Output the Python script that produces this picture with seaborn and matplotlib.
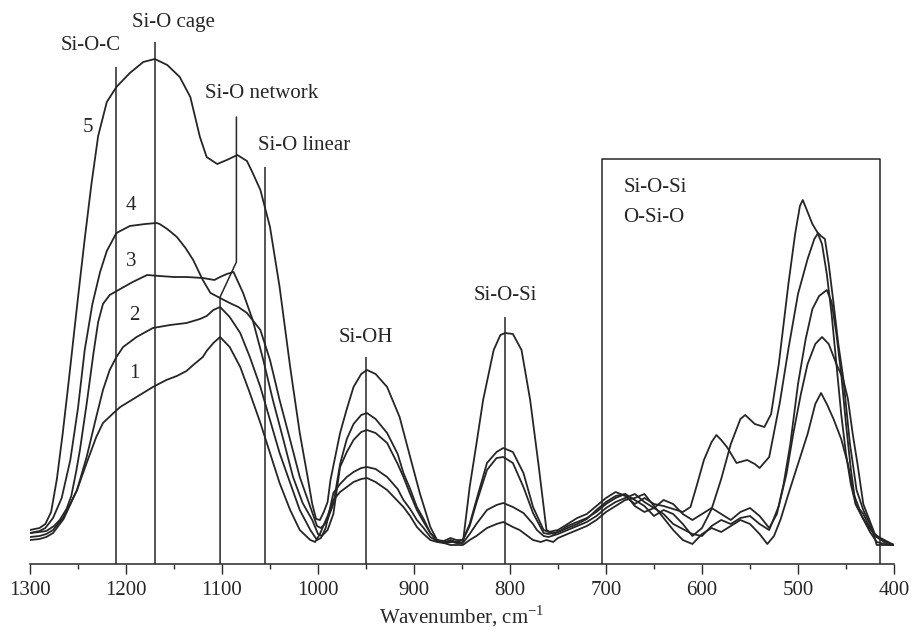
import pandas as pd
import matplotlib
matplotlib.use("Agg")
import matplotlib.pyplot as plt
import seaborn as sns
from matplotlib.ticker import MultipleLocator

# ==============================
# DATA  (wavenumber cm-1, absorbance in arbitrary units)
# ==============================
curve_1 = [(1300, 24), (1290, 25), (1283, 27), (1276, 31), (1265, 45), (1251, 74), (1241, 101),
           (1231, 127), (1224, 141), (1213, 151), (1206, 157), (1189, 167), (1172, 177), (1158, 184),
           (1147, 188), (1137, 193), (1130, 199), (1120, 207), (1116, 213), (1109, 221), (1102, 227),
           (1092, 217), (1081, 197), (1071, 171), (1060, 141), (1050, 111), (1040, 81), (1029, 54),
           (1019, 34), (1008, 24), (1003, 22), (998, 30), (990, 48), (984, 64), (977, 72), (970, 77),
           (963, 82), (955, 85), (949, 86), (940, 82), (928, 74), (917, 63), (911, 57), (904, 48),
           (897, 37), (890, 30), (883, 24), (876, 22), (869, 21), (862, 19), (856, 19), (849, 19),
           (842, 24), (835, 28), (824, 36), (814, 40), (807, 42), (797, 37), (790, 34), (776, 24),
           (768, 22), (762, 24), (755, 22), (750, 26), (740, 30), (730, 34), (720, 38), (710, 44),
           (700, 52), (690, 58), (680, 64), (670, 66), (660, 70), (650, 58), (640, 46), (630, 34),
           (620, 24), (610, 20), (600, 30), (590, 36), (580, 32), (570, 38), (560, 44), (550, 40),
           (540, 30), (532, 20), (525, 28), (518, 45), (510, 70), (500, 100), (490, 130), (482, 160),
           (476, 171), (470, 160), (463, 145), (455, 125), (448, 100), (442, 70), (436, 55), (432, 50),
           (427, 40), (420, 28), (410, 22), (400, 19)]

curve_2 = [(1300, 27), (1290, 28), (1283, 30), (1276, 34), (1265, 47), (1251, 74), (1241, 107),
           (1231, 147), (1224, 174), (1217, 194), (1210, 207), (1203, 217), (1189, 227), (1172, 236),
           (1154, 239), (1137, 241), (1123, 245), (1116, 248), (1109, 254), (1102, 257), (1092, 247),
           (1081, 231), (1071, 207), (1060, 177), (1050, 144), (1040, 111), (1029, 81), (1019, 54),
           (1008, 34), (1001, 24), (997, 26), (992, 36), (984, 71), (977, 80), (970, 87), (963, 92),
           (955, 96), (949, 97), (940, 95), (928, 87), (917, 75), (911, 64), (904, 55), (897, 44),
           (890, 36), (883, 27), (876, 23), (869, 22), (862, 23), (856, 21), (849, 21), (842, 30),
           (835, 40), (824, 54), (814, 59), (807, 61), (797, 57), (786, 51), (776, 40), (772, 34),
           (765, 28), (760, 27), (750, 30), (740, 34), (730, 38), (720, 42), (710, 48), (700, 56),
           (690, 62), (680, 66), (670, 70), (660, 62), (650, 56), (640, 50), (630, 40), (620, 35),
           (610, 30), (600, 28), (590, 38), (580, 44), (570, 40), (560, 46), (550, 48), (540, 40),
           (530, 34), (520, 58), (512, 90), (505, 130), (497, 170), (490, 200), (482, 220), (475, 227),
           (468, 220), (460, 200), (453, 185), (448, 165), (443, 130), (438, 100), (432, 60), (426, 45),
           (420, 30), (410, 22), (400, 19)]

curve_3 = [(1300, 31), (1290, 32), (1283, 33), (1275, 38), (1269, 44), (1262, 55), (1257, 68),
           (1252, 92), (1248, 114), (1241, 160), (1234, 210), (1229, 242), (1224, 260), (1217, 269),
           (1206, 275), (1193, 282), (1178, 289), (1165, 288), (1150, 287), (1137, 287), (1120, 286),
           (1108, 284), (1102, 287), (1095, 290), (1088, 292), (1078, 271), (1068, 244), (1057, 204),
           (1047, 164), (1036, 124), (1026, 87), (1016, 61), (1006, 44), (1000, 30), (996, 28),
           (990, 34), (984, 50), (977, 97), (970, 112), (963, 124), (955, 132), (949, 134), (940, 131),
           (928, 121), (917, 100), (911, 87), (904, 70), (897, 54), (890, 42), (883, 31), (876, 24),
           (869, 23), (862, 26), (856, 24), (849, 24), (842, 38), (835, 61), (824, 94), (814, 106),
           (807, 107), (797, 101), (786, 77), (776, 51), (765, 31), (760, 30), (750, 32), (740, 36),
           (730, 40), (720, 45), (710, 54), (700, 62), (690, 68), (680, 70), (670, 58), (660, 52),
           (650, 56), (640, 64), (630, 60), (620, 50), (610, 44), (600, 50), (590, 56), (580, 50),
           (570, 44), (560, 52), (550, 56), (540, 48), (530, 36), (522, 50), (515, 80), (508, 120),
           (500, 180), (492, 225), (485, 255), (478, 268), (470, 274), (465, 262), (460, 230),
           (455, 190), (450, 140), (445, 95), (440, 60), (432, 45), (425, 32), (418, 22), (410, 20),
           (400, 19)]

curve_4 = [(1300, 31), (1290, 33), (1284, 36), (1276, 46), (1267, 66), (1258, 104), (1250, 156),
           (1243, 214), (1235, 260), (1227, 292), (1220, 313), (1210, 331), (1196, 338), (1180, 340),
           (1168, 341), (1165, 340), (1157, 335), (1147, 327), (1138, 316), (1130, 304), (1120, 284),
           (1112, 271), (1102, 266), (1092, 261), (1083, 257), (1074, 251), (1060, 234), (1050, 204),
           (1040, 164), (1029, 124), (1019, 87), (1008, 57), (1001, 38), (997, 36), (991, 42),
           (984, 60), (977, 100), (970, 125), (963, 140), (955, 149), (949, 151), (940, 145),
           (928, 131), (917, 110), (911, 91), (904, 75), (897, 57), (890, 45), (883, 31), (876, 24),
           (869, 21), (862, 24), (856, 22), (849, 24), (842, 40), (835, 64), (824, 101), (814, 112),
           (807, 116), (797, 112), (786, 91), (776, 57), (765, 34), (760, 32), (750, 34), (740, 40),
           (730, 46), (720, 50), (710, 58), (700, 66), (690, 72), (680, 68), (670, 60), (660, 66),
           (650, 60), (640, 58), (630, 55), (620, 52), (612, 57), (605, 80), (598, 104), (590, 122),
           (585, 129), (580, 124), (574, 117), (564, 101), (553, 104), (545, 100), (540, 96),
           (530, 107), (519, 161), (510, 215), (500, 270), (490, 305), (483, 325), (479, 331),
           (476, 328), (472, 325), (468, 300), (463, 261), (458, 220), (453, 187), (446, 121),
           (439, 74), (432, 54), (425, 40), (421, 29), (418, 19), (400, 19)]

curve_5 = [(1300, 34), (1290, 36), (1284, 40), (1278, 52), (1272, 85), (1266, 130), (1260, 180),
           (1254, 232), (1249, 275), (1243, 325), (1236, 380), (1229, 428), (1220, 462), (1210, 477),
           (1196, 491), (1182, 502), (1170, 505), (1157, 499), (1144, 487), (1133, 467), (1123, 427),
           (1116, 407), (1105, 400), (1095, 404), (1084, 409), (1074, 403), (1068, 391), (1060, 374),
           (1050, 337), (1040, 277), (1029, 197), (1019, 131), (1011, 88), (1006, 60), (1002, 45),
           (998, 44), (994, 52), (990, 62), (987, 84), (977, 131), (970, 155), (963, 177), (955, 190),
           (949, 194), (940, 190), (928, 177), (915, 147), (904, 107), (894, 71), (883, 37), (876, 24),
           (868, 21), (860, 22), (852, 21), (849, 22), (842, 77), (835, 120), (828, 164), (817, 214),
           (810, 229), (805, 231), (797, 230), (788, 214), (779, 164), (770, 97), (762, 34), (755, 30),
           (748, 33), (740, 38), (730, 42), (720, 46), (710, 52), (700, 60), (690, 66), (680, 70),
           (670, 64), (660, 58), (650, 48), (640, 54), (630, 50), (620, 40), (610, 28), (600, 36),
           (590, 55), (580, 85), (570, 120), (560, 145), (555, 149), (545, 140), (535, 137),
           (528, 150), (520, 200), (510, 280), (503, 330), (498, 358), (495, 364), (490, 352),
           (485, 340), (480, 332), (475, 320), (470, 290), (465, 250), (460, 200), (455, 150),
           (450, 110), (445, 80), (440, 60), (432, 45), (425, 35), (418, 28), (410, 24), (400, 19)]

curves = {"1": curve_1, "2": curve_2, "3": curve_3, "4": curve_4, "5": curve_5}

# band markers: wavenumber, top of marker line, label
band_wn = [1210, 1170, 1055, 950, 805]
band_top = [497, 522, 397, 207, 247]
band_labels = ["Si-O-C", "Si-O cage", "Si-O linear", "Si-OH", "Si-O-Si"]

# Si-O network marker (bent line)
network_wn = [1085, 1085, 1102, 1102]
network_a = [447, 302, 267, 0]

# Si-O-Si / O-Si-O region box
box_wn = [704, 704, 415, 415]
box_a = [0, 405, 405, 0]

# ==============================
# BUILD LONG TABLE
# ==============================
frames = []
for name, pts in curves.items():
    d = pd.DataFrame(pts, columns=["wn", "absorb"])
    d["sample"] = name
    frames.append(d)
df = pd.concat(frames, ignore_index=True)

# ==============================
# PLOT
# ==============================
sns.set_theme(style="white")
plt.rcParams["font.family"] = ["Liberation Serif", "DejaVu Serif"]
plt.rcParams["mathtext.fontset"] = "custom"
plt.rcParams["mathtext.rm"] = "Liberation Serif"

line_col = "#262626"
fs = 15

fig = plt.figure(figsize=(9.13, 6.34), dpi=100)
ax = fig.add_axes([30 / 913, 70 / 634, 864 / 913, 564 / 634])

sns.lineplot(data=df, x="wn", y="absorb", hue="sample", units="sample", estimator=None,
             sort=False, palette=[line_col] * 5, legend=False, lw=1.3, ax=ax)

# marker lines
ax.vlines(band_wn, 0, band_top, color=line_col, lw=1.1)
ax.plot(network_wn, network_a, color=line_col, lw=1.1)
ax.plot(box_wn, box_a, color=line_col, lw=1.1)

# labels
ax.text(1237, 519, "Si-O-C", ha="center", va="center", fontsize=fs)
ax.text(1151, 541, "Si-O cage", ha="center", va="center", fontsize=fs)
ax.text(1059, 471, "Si-O network", ha="center", va="center", fontsize=fs)
ax.text(1014, 419, "Si-O linear", ha="center", va="center", fontsize=fs)
ax.text(950, 227, "Si-OH", ha="center", va="center", fontsize=fs)
ax.text(805, 269, "Si-O-Si", ha="center", va="center", fontsize=fs)
ax.text(682, 376, "Si-O-Si", ha="left", va="center", fontsize=fs)
ax.text(682, 347, "O-Si-O", ha="left", va="center", fontsize=fs)

for lab, x, y in [("5", 1240, 436), ("4", 1195, 358), ("3", 1195, 303),
                  ("2", 1191, 248), ("1", 1191, 191)]:
    ax.text(x, y, lab, ha="center", va="center", fontsize=fs)

# axes
ax.set_xlim(1300, 400)
ax.set_ylim(0, 564)
ax.set_xticks(range(1300, 399, -100))
ax.xaxis.set_minor_locator(MultipleLocator(50))
ax.set_yticks([])
ax.tick_params(axis="x", which="major", direction="out", length=7, width=1,
               color=line_col, labelsize=fs, pad=5, bottom=True)
ax.tick_params(axis="x", which="minor", direction="out", length=3.5, width=1,
               color=line_col, bottom=True)
for s in ["left", "right", "top"]:
    ax.spines[s].set_visible(False)
ax.spines["bottom"].set_color(line_col)
ax.spines["bottom"].set_linewidth(1.1)
ax.set_xlabel("Wavenumber, cm$^{-1}$", fontsize=fs, labelpad=3)
ax.set_ylabel("")
ax.patch.set_alpha(0)

fig.savefig("out.png", dpi=100)
